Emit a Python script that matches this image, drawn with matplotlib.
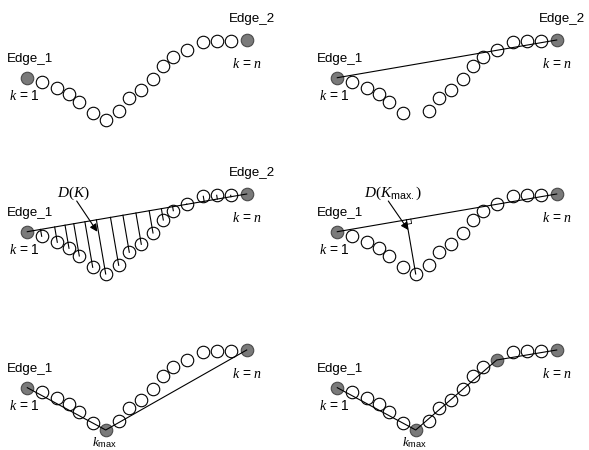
import matplotlib
matplotlib.use("Agg")
import matplotlib.pyplot as plt
import numpy as np

plt.rcParams['mathtext.fontset'] = 'custom'
plt.rcParams['mathtext.it'] = 'Liberation Serif:italic'
plt.rcParams['mathtext.rm'] = 'Liberation Serif'
plt.rcParams['mathtext.sf'] = 'Liberation Sans'
plt.rcParams['font.family'] = ['Liberation Sans', 'DejaVu Sans']

# Base curve (k = 1 .. n), pixel-like units of the first panel
x_base = [27.3, 41.7, 57.3, 69.0, 79.3, 92.7, 105.7, 118.7, 129.3, 141.3,
          153.0, 163.3, 173.3, 186.7, 203.3, 216.7, 230.7, 246.7]
y_base = [77.7, 82.3, 88.3, 94.3, 102.0, 113.3, 120.0, 111.3, 98.3, 90.3,
          79.0, 66.0, 56.7, 50.0, 42.3, 41.3, 41.3, 40.0]

col_offsets = [0, 310]
row_offsets = [0, 154, 310]

# panel settings
panel_filled = [[0, 17], [0, 17], [0, 17], [0, 17], [0, 6, 17], [0, 6, 13, 17]]
panel_hidden = [[], [6], [], [], [], []]
panel_path = [None, None, None, None, [0, 6, 17], [0, 6, 13, 17]]
panel_chord = [False, True, True, True, False, False]
panel_perp = [[], [], list(range(1, 17)), [6], [], []]
panel_edge2 = [True, True, True, False, False, False]
panel_kmax = [False, False, False, False, True, True]

FILL = '#7a7a7a'
MS = 9.0
LW = 0.8

fig = plt.figure(figsize=(5.89, 4.5), dpi=100)
ax = fig.add_axes([0, 0, 1, 1])
ax.set_xlim(0, 589)
ax.set_ylim(450, 0)
ax.axis('off')

xb = np.array(x_base)
yb = np.array(y_base)

for p in range(6):
    r, c = divmod(p, 2)
    dx, dy = col_offsets[c], row_offsets[r]
    X = xb + dx
    Y = yb + dy
    idx = [i for i in range(len(X)) if i not in panel_hidden[p]]
    filled = panel_filled[p]
    open_idx = [i for i in idx if i not in filled]
    ax.plot(X[open_idx], Y[open_idx], 'o', ms=MS, mfc='none', mec='black', mew=LW, zorder=3)
    ax.plot(X[filled], Y[filled], 'o', ms=MS, mfc=FILL, mec='#4a4a4a', mew=LW, zorder=3)

    A = np.array([X[0], Y[0]])
    B = np.array([X[-1], Y[-1]])
    if panel_chord[p]:
        ax.plot([A[0], B[0]], [A[1], B[1]], color='black', lw=LW, zorder=4)
    u = (B - A) / np.linalg.norm(B - A)
    for i in panel_perp[p]:
        P = np.array([X[i], Y[i]])
        F = A + np.dot(P - A, u) * u
        ax.plot([P[0], F[0]], [P[1], F[1]], color='black', lw=LW, zorder=4)
        if p == 3:
            v = (P - F) / np.linalg.norm(P - F)
            s = 4.5
            c1 = F + u * s
            c2 = F + u * s + v * s
            c3 = F + v * s
            ax.plot([c1[0], c2[0], c3[0]], [c1[1], c2[1], c3[1]], color='black', lw=0.6, zorder=4)
    if panel_path[p] is not None:
        ax.plot(X[panel_path[p]], Y[panel_path[p]], color='black', lw=LW, zorder=4)

    # labels
    ax.text(7.3 + dx, 61.7 + dy, 'Edge_1', fontsize=9.6, ha='left', va='baseline')
    if panel_edge2[p]:
        ax.text(229.3 + dx, 21.7 + dy, 'Edge_2', fontsize=9.6, ha='left', va='baseline')
    ax.text(9.0 + dx, 99.5 + dy, r'$k$ = 1', fontsize=10, ha='left', va='baseline')
    ax.text(232.5 + dx, 68.0 + dy, r'$k$ = $n$', fontsize=10, ha='left', va='baseline')
    if panel_kmax[p]:
        ax.text(X[6] - 1.5, 446.0, r'$k_{\mathsf{max}}$', fontsize=9.5, ha='center', va='baseline')

# D(K) annotation
ax.annotate('', xy=(97.3, 231.7), xytext=(76.7, 201.0),
            arrowprops=dict(arrowstyle='-|>', color='black', lw=0.8,
                            mutation_scale=11, shrinkA=0, shrinkB=0), zorder=5)
ax.text(73.0, 196.7, r'$D(K)$', fontsize=11, ha='center', va='baseline')

ax.annotate('', xy=(408.3, 230.0), xytext=(388.3, 201.0),
            arrowprops=dict(arrowstyle='-|>', color='black', lw=0.8,
                            mutation_scale=11, shrinkA=0, shrinkB=0), zorder=5)
ax.text(392.5, 196.7, r'$D(K_{\mathsf{max.}})$', fontsize=11, ha='center', va='baseline')

fig.savefig('out.png', dpi=100)
